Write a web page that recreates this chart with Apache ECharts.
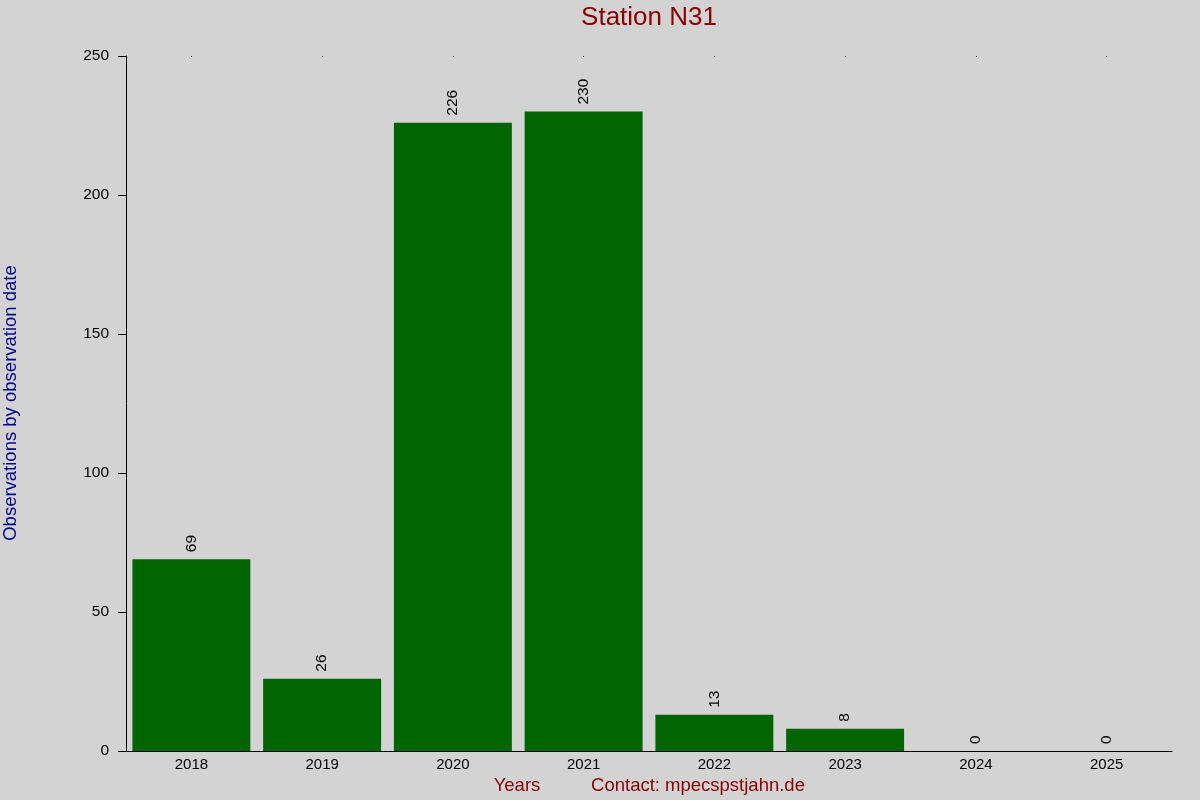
<!DOCTYPE html>
<html><head><meta charset="utf-8">
<script src="https://cdn.jsdelivr.net/npm/echarts@6/dist/echarts.min.js"></script>
<style>html,body{margin:0;padding:0;background:#d3d3d3}#c{width:1200px;height:800px}</style>
</head><body><div id="c"></div>
<script>
const years = ['2018','2019','2020','2021','2022','2023','2024','2025'];
const counts = [69, 26, 226, 230, 13, 8, 0, 0];
const yTicks = [0, 50, 100, 150, 200, 250];

const chart = echarts.init(document.getElementById('c'), null, {renderer:'canvas'});
const font = 'Liberation Sans, Arial, sans-serif';
chart.setOption({
  backgroundColor:'#d3d3d3',
  animation:false,
  grid:{left:126, right:28, top:56, bottom:49},
  xAxis:[{
    type:'category', data:years, position:'bottom',
    axisLine:{show:true, lineStyle:{color:'#000', width:1}},
    axisTick:{show:false},
    axisLabel:{color:'#000', fontSize:15, fontFamily:font, margin:6},
    splitLine:{show:false}
  },{
    type:'category', data:years, position:'top',
    axisLine:{show:false},
    axisTick:{show:true, alignWithLabel:true, length:1, inside:true, lineStyle:{color:'#000'}},
    axisLabel:{show:false}
  }],
  yAxis:{
    type:'value', min:yTicks[0], max:yTicks[yTicks.length-1], interval:50,
    axisLine:{show:true, lineStyle:{color:'#000'}},
    axisTick:{show:true, length:8, lineStyle:{color:'#000'}},
    axisLabel:{color:'#000', fontSize:15.5, fontFamily:font, margin:17},
    splitLine:{show:false}
  },
  series:[{
    type:'bar', data:counts, xAxisIndex:0,
    barCategoryGap:'9.8%',
    itemStyle:{color:'#006400'},
    label:{show:true, position:'top', rotate:90, align:'left', verticalAlign:'middle',
      distance:7, color:'#000', fontSize:15.5, fontFamily:font}
  }],
  graphic:[
    {type:'text', x:649, y:18, style:{text:'Station N31', fill:'#8b0000', fontSize:26, fontFamily:font,
        textAlign:'center', textVerticalAlign:'middle'}},
    {type:'text', x:11, y:403, rotation:Math.PI/2,
      style:{text:'Observations by observation date', fill:'#00008b', fontSize:18.5, fontFamily:font,
        textAlign:'center', textVerticalAlign:'middle'}},
    {type:'text', x:517, y:786, style:{text:'Years', fill:'#8b0000', fontSize:18.5, fontFamily:font,
        textAlign:'center', textVerticalAlign:'middle'}},
    {type:'text', x:698, y:786, style:{text:'Contact: mpecspstjahn.de', fill:'#8b0000', fontSize:18.5, fontFamily:font,
        textAlign:'center', textVerticalAlign:'middle'}}
  ]
});
</script></body></html>
